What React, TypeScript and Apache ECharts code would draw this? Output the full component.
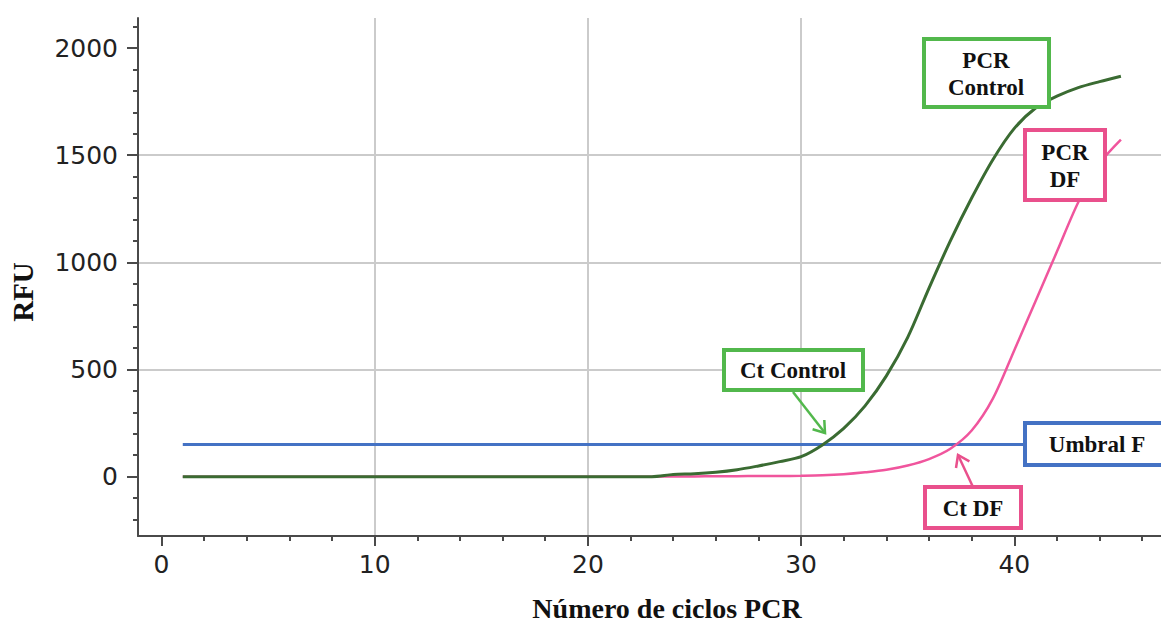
import React, { useEffect, useRef } from "react";
import * as echarts from "echarts";

// Cycles 1..45
const cycles = [1,2,3,4,5,6,7,8,9,10,11,12,13,14,15,16,17,18,19,20,21,22,23,24,25,26,27,28,29,30,31,32,33,34,35,36,37,38,39,40,41,42,43,44,45];
const controlRFU = [0,0,0,0,0,0,0,0,0,0,0,0,0,0,0,0,0,0,0,0,0,0,0,10,13,20,32,50,70,93,148,225,330,470,650,880,1100,1300,1480,1625,1720,1775,1815,1843,1868];
const dfRFU = [0,0,0,0,0,0,0,0,0,0,0,0,0,0,0,0,0,0,0,0,0,0,0,1,1,2,2,3,3,4,6,11,20,32,52,82,130,215,365,590,820,1050,1280,1460,1572];
const thresholdX = [1, 45];
const thresholdRFU = [150, 150];

const xMajorTicks = [0, 10, 20, 30, 40];
const xMinorTicks = [0,2,4,6,8,10,12,14,16,18,20,22,24,26,28,30,32,34,36,38,40,42,44,46];
const yMajorTicks = [0, 500, 1000, 1500, 2000];
const yMinorTicks = [-200,-100,0,100,200,300,400,500,600,700,800,900,1000,1100,1200,1300,1400,1500,1600,1700,1800,1900,2000,2100];

const X_MIN = -1.1, X_MAX = 46.88;
const Y_MIN = -277, Y_MAX = 2140;

const AXIS_COLOR = "#4a4a4a";
const GRID_COLOR = "#cbcbcb";
const LABEL_FONT = "DejaVu Sans";
const SERIF = "Liberation Serif";

const GREEN_LINE = "#3a6b32";
const PINK_LINE = "#f0559d";
const BLUE_LINE = "#4472c4";
const GREEN_BOX = "#52b84c";
const PINK_BOX = "#e9508c";

function box(x: number, y: number, w: number, h: number, stroke: string) {
  return { type: "rect", shape: { x, y, width: w, height: h }, style: { fill: "#fff", stroke, lineWidth: 4 }, z: 100 };
}
function label(text: string, x: number, y: number, size = 23, lh = 27) {
  return {
    type: "text", x, y, z: 101,
    style: { text, fill: "#111", fontFamily: SERIF, fontWeight: "bold", fontSize: size, lineHeight: lh, align: "center", verticalAlign: "middle" },
  };
}
function arrow(x1: number, y1: number, x2: number, y2: number, wings: number[][], color: string) {
  return [
    { type: "line", shape: { x1, y1, x2, y2 }, style: { stroke: color, lineWidth: 2.5 }, z: 100 },
    { type: "polyline", shape: { points: [wings[0], [x2, y2], wings[1]] }, style: { stroke: color, lineWidth: 2.5, fill: null }, z: 100 },
  ];
}

const plain = (v: number) => String(v);

export default function App() {
  const ref = useRef<HTMLDivElement>(null);
  useEffect(() => {
    if (!ref.current) return;
    const chart = echarts.init(ref.current, null, { renderer: "svg" });
    const baseX = { type: "value", min: X_MIN, max: X_MAX, splitNumber: 5, position: "bottom" };
    const baseY = { type: "value", min: Y_MIN, max: Y_MAX, splitNumber: 5, position: "left" };
    chart.setOption({
      animation: false,
      backgroundColor: "#fff",
      grid: { left: 138, right: 0, top: 18, bottom: 88 },
      xAxis: [
        {
          ...baseX,
          axisLine: { show: true, onZero: false, lineStyle: { color: AXIS_COLOR, width: 2 } },
          axisTick: { show: true, customValues: xMajorTicks, length: 10, lineStyle: { color: AXIS_COLOR, width: 2 } },
          axisLabel: { show: true, customValues: xMajorTicks, formatter: plain, fontSize: 25, fontFamily: LABEL_FONT, color: "#222", margin: 16 },
          splitLine: { show: true, showMinLine: false, showMaxLine: false, lineStyle: { color: GRID_COLOR, width: 2 } },
        },
        {
          ...baseX,
          axisLine: { show: false, onZero: false },
          axisTick: { show: true, customValues: xMinorTicks, length: 5, lineStyle: { color: AXIS_COLOR, width: 2 } },
          axisLabel: { show: false },
          splitLine: { show: false },
        },
      ],
      yAxis: [
        {
          ...baseY,
          axisLine: { show: true, onZero: false, lineStyle: { color: AXIS_COLOR, width: 2 } },
          axisTick: { show: true, customValues: yMajorTicks, length: 11, lineStyle: { color: AXIS_COLOR, width: 2 } },
          axisLabel: { show: true, customValues: yMajorTicks, formatter: plain, fontSize: 25, fontFamily: LABEL_FONT, color: "#222", margin: 20 },
          splitLine: { show: true, showMinLine: false, showMaxLine: false, lineStyle: { color: GRID_COLOR, width: 2 } },
        },
        {
          ...baseY,
          axisLine: { show: false, onZero: false },
          axisTick: { show: true, customValues: yMinorTicks, length: 5, lineStyle: { color: AXIS_COLOR, width: 2 } },
          axisLabel: { show: false },
          splitLine: { show: false },
        },
      ],
      series: [
        {
          name: "Umbral F", type: "line", xAxisIndex: 0, yAxisIndex: 0,
          data: thresholdX.map((x, i) => [x, thresholdRFU[i]]),
          showSymbol: false, symbol: "none", lineStyle: { color: BLUE_LINE, width: 3 }, z: 3,
        },
        {
          name: "PCR DF", type: "line", xAxisIndex: 0, yAxisIndex: 0,
          data: cycles.map((c, i) => [c, dfRFU[i]]),
          smooth: 0.3, showSymbol: false, symbol: "none",
          lineStyle: { color: PINK_LINE, width: 2.5 }, z: 4,
        },
        {
          name: "PCR Control", type: "line", xAxisIndex: 0, yAxisIndex: 0,
          data: cycles.map((c, i) => [c, controlRFU[i]]),
          smooth: 0.3, showSymbol: false, symbol: "none",
          lineStyle: { color: GREEN_LINE, width: 3 }, z: 5,
        },
      ],
      graphic: [
        { type: "text", x: 667, y: 608, style: { text: "Número de ciclos PCR", fill: "#111", fontFamily: SERIF, fontWeight: "bold", fontSize: 28, align: "center", verticalAlign: "middle" } },
        { type: "text", x: 23, y: 292, rotation: Math.PI / 2, style: { text: "RFU", fill: "#111", fontFamily: SERIF, fontWeight: "bold", fontSize: 29, align: "center", verticalAlign: "middle" } },
        box(924, 39, 125, 68, GREEN_BOX),
        label("PCR\nControl", 986, 74),
        box(1025, 130, 80, 70, PINK_BOX),
        label("PCR\nDF", 1065, 166),
        ...arrow(793, 392, 825, 433, [[812.6, 429.2], [824.3, 420]], GREEN_BOX),
        box(724, 350, 139, 40, GREEN_BOX),
        label("Ct Control", 793, 370),
        box(1025, 423, 150, 42, BLUE_LINE),
        label("Umbral F", 1097, 444),
        ...arrow(973, 487, 958, 455, [[956, 468], [969.4, 461.3]], PINK_BOX),
        box(925, 487, 96, 41, PINK_BOX),
        label("Ct DF", 973, 508),
      ],
    });
    return () => chart.dispose();
  }, []);
  return <div ref={ref} style={{ position: "absolute", left: 0, top: 0, width: 1161, height: 624 }} />;
}
